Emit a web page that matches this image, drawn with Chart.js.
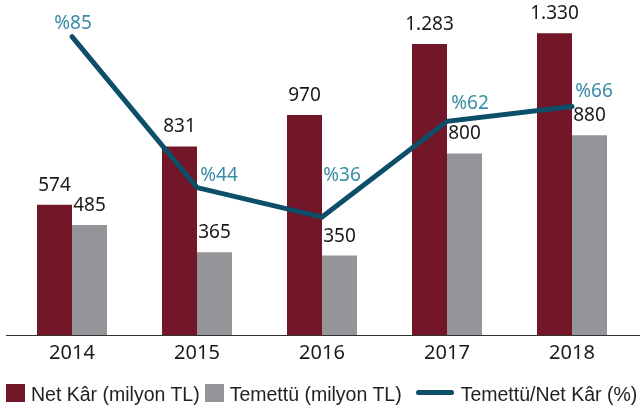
<!DOCTYPE html>
<html lang="tr">
<head>
<meta charset="utf-8">
<script src="https://cdn.jsdelivr.net/npm/chart.js@4.4.0/dist/chart.umd.min.js"></script>
<style>
  html, body { margin: 0; padding: 0; background: #fff; }
  #kutu { position: relative; width: 640px; height: 412px; overflow: hidden; }
  #lejant {
    position: absolute; left: 6px; top: 380px; height: 28px;
    display: flex; align-items: center;
    font-family: "Liberation Sans", Arial, sans-serif; font-size: 19.5px; color: #222;
    white-space: nowrap;
  }
  #lejant .kare { display: inline-block; width: 19px; height: 18px; margin-right: 6px; position: relative; top: -1px; }
  #lejant .cizgi { display: inline-block; width: 38px; height: 5px; border-radius: 3px; margin: 0 7px 0 9px; position: relative; top: -2px; }
  #lejant .yazi { margin-right: 5px; }
</style>
</head>
<body>
<div id="kutu">
  <canvas id="grafik" width="640" height="412"></canvas>
  <div id="lejant"></div>
</div>
<script>
// Grafik verileri
const yillar = ["2014", "2015", "2016", "2017", "2018"];
const netKar = [574, 831, 970, 1283, 1330];
const temettu = [485, 365, 350, 800, 880];
const oran = [85, 44, 36, 62, 66];

const seriAdlari = ["Net Kâr (milyon TL)", "Temettü (milyon TL)", "Temettü/Net Kâr (%)"];

// Yüzde etiketlerinin noktaya göre kaydırılması [dx, dy]
const oranEtiketKaydir = [[1, -8], [22, -7], [20, -36], [23, -12], [22, -10]];

const renkKirmizi = "#721628";
const renkGri = "#949598";
const renkCizgi = "#0d4e69";
const renkYuzde = "#3a8ca6";

// 1283 -> "1.283"
function sayiYaz(deger) {
	return String(deger).replace(/\B(?=(\d{3})+(?!\d))/g, ".");
}

// Etiketler ve taban çizgisi
const etiketEklentisi = {
	id: "etiketler",
	afterDatasetsDraw(chart) {
		const ctx = chart.ctx;
		const alt = chart.chartArea.bottom;
		ctx.save();
		ctx.strokeStyle = "#333";
		ctx.lineWidth = 1;
		ctx.beginPath();
		ctx.moveTo(6, Math.round(alt) + 0.5);
		ctx.lineTo(chart.width, Math.round(alt) + 0.5);
		ctx.stroke();

		ctx.textAlign = "center";
		ctx.textBaseline = "alphabetic";
		ctx.font = '19px "Noto Sans", sans-serif';
		ctx.fillStyle = "#1a1a1a";
		for (let i = 0; i < 2; i++) {
			const meta = chart.getDatasetMeta(i);
			meta.data.forEach(function (bar, j) {
				ctx.fillText(sayiYaz(chart.data.datasets[i].data[j]), bar.x, bar.y - 14);
			});
		}

		ctx.fillStyle = renkYuzde;
		const metaCizgi = chart.getDatasetMeta(2);
		metaCizgi.data.forEach(function (nokta, j) {
			const k = oranEtiketKaydir[j];
			ctx.fillText("%" + chart.data.datasets[2].data[j], nokta.x + k[0], nokta.y + k[1]);
		});
		ctx.restore();
	}
};

const data = {
	labels: yillar,
	datasets: [
		{
			type: "bar",
			label: seriAdlari[0],
			data: netKar,
			backgroundColor: renkKirmizi,
			yAxisID: "y",
			order: 1,
		},
		{
			type: "bar",
			label: seriAdlari[1],
			data: temettu,
			backgroundColor: renkGri,
			yAxisID: "y",
			order: 1,
		},
		{
			type: "line",
			label: seriAdlari[2],
			data: oran,
			borderColor: renkCizgi,
			backgroundColor: renkCizgi,
			borderWidth: 5,
			borderCapStyle: "round",
			borderJoinStyle: "miter",
			pointRadius: 0,
			tension: 0,
			yAxisID: "y1",
			order: 0,
		},
	],
};

const config = {
	data: data,
	options: {
		responsive: false,
		animation: false,
		datasets: {
			bar: { barPercentage: 1, categoryPercentage: 0.56 },
		},
		layout: { padding: { top: 6, left: 9.5, right: 5.5, bottom: 41 } },
		plugins: {
			legend: { display: false },
			tooltip: { enabled: false },
		},
		scales: {
			x: {
				grid: { display: false, drawTicks: false },
				border: { display: false },
				ticks: {
					color: "#1a1a1a",
					padding: 6,
					font: { family: '"Noto Sans", sans-serif', size: 20 },
				},
			},
			y: { display: false, min: 0, max: 1450 },
			y1: { display: false, min: 4, max: 93.3 },
		},
	},
	plugins: [etiketEklentisi],
};

new Chart(document.querySelector("#grafik"), config);

// Lejant
const lejant = document.querySelector("#lejant");
lejant.innerHTML = `
	<span class="kare" style="background:${renkKirmizi}"></span><span class="yazi">${seriAdlari[0]}</span>
	<span class="kare" style="background:${renkGri}"></span><span class="yazi">${seriAdlari[1]}</span>
	<span class="cizgi" style="background:${renkCizgi}"></span><span class="yazi">${seriAdlari[2]}</span>`;
</script>
</body>
</html>
